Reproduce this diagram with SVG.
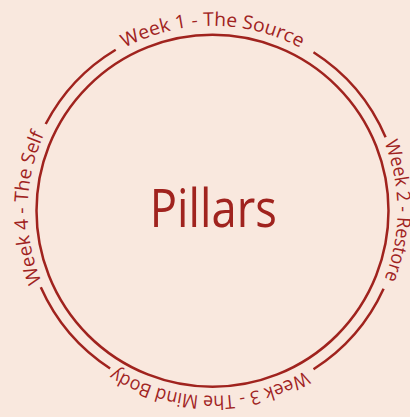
<svg xmlns="http://www.w3.org/2000/svg" xmlns:xlink="http://www.w3.org/1999/xlink" width="410" height="417" viewBox="0 0 410 417">
  <style>
    .ring { fill: none; stroke: #a0231e; stroke-width: 2.5; }
    .arc { fill: none; stroke: #a0231e; stroke-width: 2.5; stroke-linecap: butt; }
    .lbl { font-family: "Open Sans", "Noto Sans", sans-serif; font-size: 19px; fill: #a0231e; }
    .title { font-family: "Open Sans", "Noto Sans", sans-serif; font-size: 53px; fill: #a0231e; }
  </style>
  <defs>
    <path id="pTop" d="M 27.5,210.8 A 185 185 0 0 1 397.5,210.8"/>
    <path id="pRight" d="M 212.5,25.8 A 185 185 0 0 1 212.5,395.8"/>
    <path id="pBottom" d="M 397.5,210.8 A 185 185 0 0 1 27.5,210.8"/>
    <path id="pLeft" d="M 212.5,395.8 A 185 185 0 0 1 212.5,25.8"/>
  </defs>
  <rect width="410" height="417" fill="#f9e8de"/>
  <g id="center">
    <circle class="ring" cx="212.5" cy="210.8" r="176"/>
    <text class="title" x="213.3" y="227" text-anchor="middle" textLength="127" lengthAdjust="spacingAndGlyphs">Pillars</text>
  </g>
  <g id="connectors">
    <path class="arc" d="M 45.7,124.0 A 188 188 0 0 1 115.7,49.7"/>
    <path class="arc" d="M 313.5,52.3 A 188 188 0 0 1 385.6,137.3"/>
    <path class="arc" d="M 383.6,288.8 A 188 188 0 0 1 313.5,369.3"/>
    <path class="arc" d="M 110.1,368.5 A 188 188 0 0 1 40.8,287.3"/>
  </g>
  <g id="week1">
    <text class="lbl" text-anchor="middle"><textPath xlink:href="#pTop" href="#pTop" startOffset="50%" textLength="183" lengthAdjust="spacingAndGlyphs">Week 1 - The Source</textPath></text>
  </g>
  <g id="week2">
    <text class="lbl" text-anchor="middle"><textPath xlink:href="#pRight" href="#pRight" startOffset="50%" textLength="140" lengthAdjust="spacingAndGlyphs">Week 2 - Restore</textPath></text>
  </g>
  <g id="week3">
    <text class="lbl" text-anchor="middle"><textPath xlink:href="#pBottom" href="#pBottom" startOffset="50.5%" textLength="200" lengthAdjust="spacingAndGlyphs">Week 3 - The Mind Body</textPath></text>
  </g>
  <g id="week4">
    <text class="lbl" text-anchor="middle"><textPath xlink:href="#pLeft" href="#pLeft" startOffset="50.5%" textLength="152" lengthAdjust="spacingAndGlyphs">Week 4 - The Self</textPath></text>
  </g>
</svg>
